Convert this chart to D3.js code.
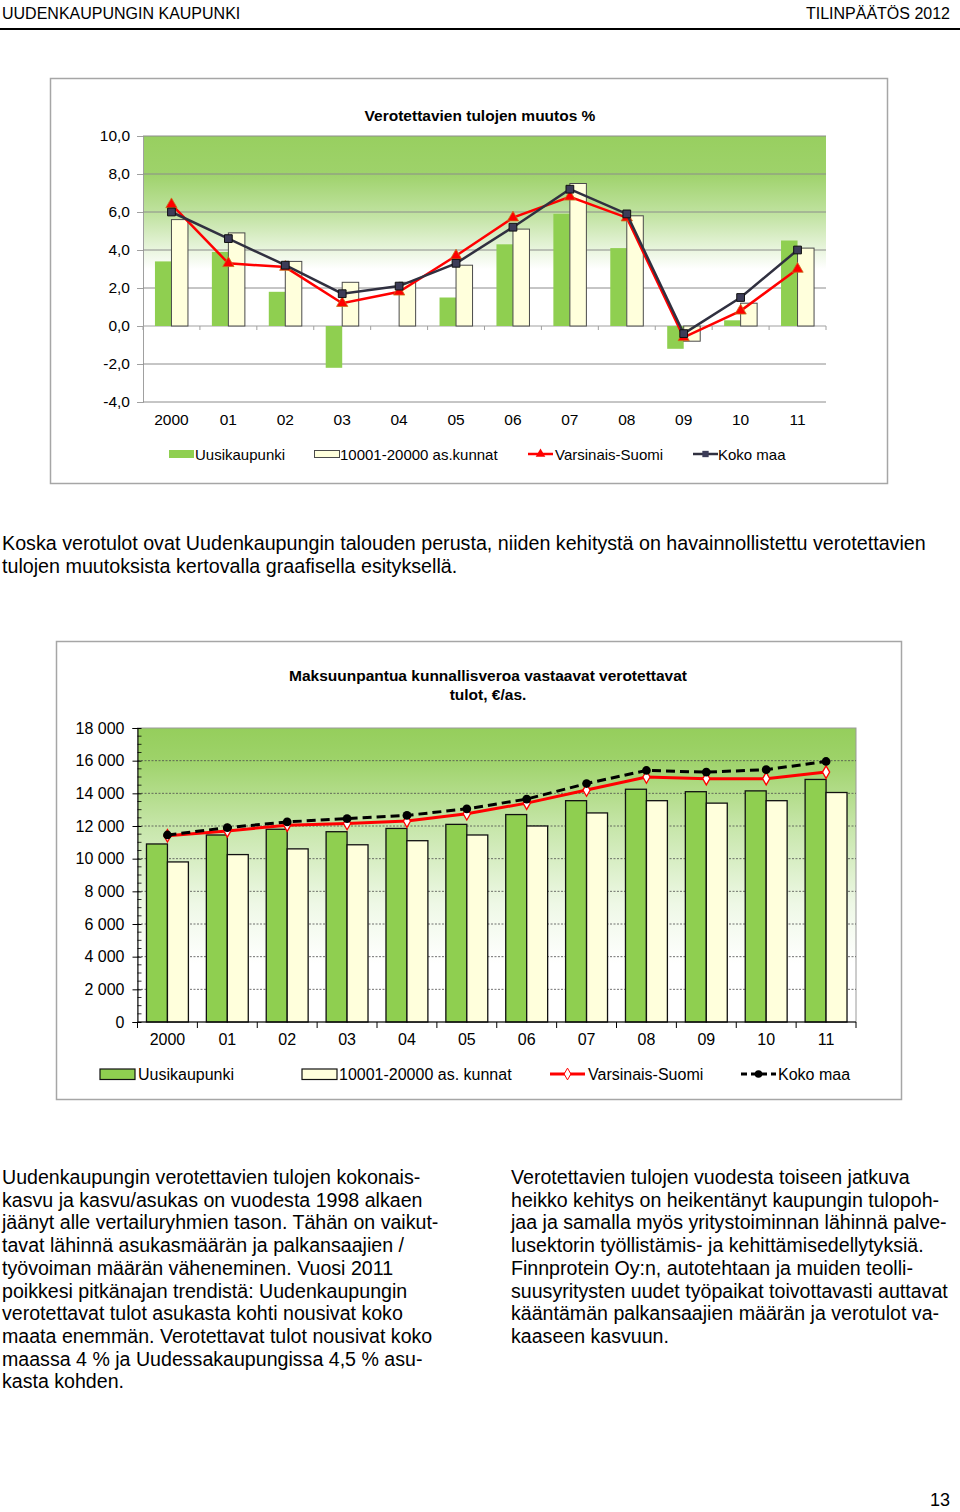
<!DOCTYPE html>
<html>
<head>
<meta charset="utf-8">
<script src="https://cdn.jsdelivr.net/npm/d3@7"></script>
<style>
  html, body { margin: 0; padding: 0; background: #fff; }
  svg { display: block; }
  text { font-family: "Liberation Sans", Arial, sans-serif; fill: #000; }
</style>
</head>
<body>
<svg id="page" width="960" height="1512"></svg>
<script>
// ---------- DATA ----------
const years = ["2000", "01", "02", "03", "04", "05", "06", "07", "08", "09", "10", "11"];

// Chart 1: Verotettavien tulojen muutos %
const changeUusikaupunki = [3.4, 3.9, 1.8, -2.2, 0.0, 1.5, 4.3, 5.9, 4.1, -1.2, 0.3, 4.5];
const changeKunnat = [5.6, 4.9, 3.4, 2.3, 2.3, 3.2, 5.1, 7.5, 5.8, -0.8, 1.2, 4.1];
const changeVarsinaisSuomi = [6.4, 3.3, 3.1, 1.2, 1.8, 3.7, 5.7, 6.8, 5.7, -0.6, 0.8, 3.0];
const changeKokoMaa = [6.0, 4.6, 3.2, 1.7, 2.1, 3.3, 5.2, 7.2, 5.9, -0.4, 1.5, 4.0];
const changeTicks = [-4, -2, 0, 2, 4, 6, 8, 10];

// Chart 2: Maksuunpantua kunnallisveroa vastaavat verotettavat tulot, €/as.
const incomeUusikaupunki = [10900, 11450, 11800, 11650, 11850, 12100, 12700, 13550, 14250, 14100, 14150, 14850];
const incomeKunnat = [9800, 10250, 10600, 10850, 11100, 11450, 12000, 12800, 13550, 13400, 13550, 14050];
const incomeVarsinaisSuomi = [11400, 11700, 12050, 12150, 12300, 12750, 13400, 14200, 15000, 14900, 14900, 15300];
const incomeKokoMaa = [11450, 11900, 12250, 12450, 12650, 13050, 13650, 14600, 15400, 15300, 15450, 15950];
const incomeTicks = [0, 2000, 4000, 6000, 8000, 10000, 12000, 14000, 16000, 18000];

const legend1 = ["Uusikaupunki", "10001-20000 as.kunnat", "Varsinais-Suomi", "Koko maa"];
const legend2 = ["Uusikaupunki", "10001-20000 as. kunnat", "Varsinais-Suomi", "Koko maa"];

const headerLeft = "UUDENKAUPUNGIN KAUPUNKI";
const headerRight = "TILINPÄÄTÖS 2012";
const introLines = [
  "Koska verotulot ovat Uudenkaupungin talouden perusta, niiden kehitystä on havainnollistettu verotettavien",
  "tulojen muutoksista kertovalla graafisella esityksellä."
];
const leftColumn = [
  "Uudenkaupungin verotettavien tulojen kokonais-",
  "kasvu ja kasvu/asukas on vuodesta 1998 alkaen",
  "jäänyt alle vertailuryhmien tason. Tähän on vaikut-",
  "tavat lähinnä asukasmäärän ja palkansaajien /",
  "työvoiman määrän väheneminen. Vuosi 2011",
  "poikkesi pitkänajan trendistä: Uudenkaupungin",
  "verotettavat tulot asukasta kohti nousivat koko",
  "maata enemmän. Verotettavat tulot nousivat koko",
  "maassa 4 % ja Uudessakaupungissa 4,5 % asu-",
  "kasta kohden."
];
const rightColumn = [
  "Verotettavien tulojen vuodesta toiseen jatkuva",
  "heikko kehitys on heikentänyt kaupungin tulopoh-",
  "jaa ja samalla myös yritystoiminnan lähinnä palve-",
  "lusektorin työllistämis- ja kehittämisedellytyksiä.",
  "Finnprotein Oy:n, autotehtaan ja muiden teolli-",
  "suusyritysten uudet työpaikat toivottavasti auttavat",
  "kääntämän palkansaajien määrän ja verotulot va-",
  "kaaseen kasvuun."
];

// ---------- COLOURS ----------
const GREEN = "#8fcf50";
const CREAM = "#ffffdc";
const RED = "#ff0000";

const fi = d3.formatLocale({decimal: ",", thousands: "\u00a0", grouping: [3], currency: ["", "€"], minus: "-"});
const fmt1 = fi.format(".1f");
const fmtK = fi.format(",.0f");

const svg = d3.select("#page");
const defs = svg.append("defs");

// ---------- PAGE TEXT ----------
svg.append("text").attr("x", 2).attr("y", 19).attr("font-size", 16).text(headerLeft);
svg.append("text").attr("x", 950).attr("y", 19).attr("font-size", 16).attr("text-anchor", "end").text(headerRight);
svg.append("line").attr("x1", 0).attr("x2", 960).attr("y1", 29).attr("y2", 29)
  .attr("stroke", "#000").attr("stroke-width", 2);

function textBlock(lines, x, y0, lh, size) {
  const g = svg.append("g");
  g.selectAll("text").data(lines).join("text")
    .attr("x", x).attr("y", (d, i) => y0 + i * lh)
    .attr("font-size", size).text(d => d);
}
textBlock(introLines, 2, 550, 23, 19.7);
textBlock(leftColumn, 2, 1184, 22.7, 19.6);
textBlock(rightColumn, 511, 1184, 22.7, 19.6);
svg.append("text").attr("x", 950).attr("y", 1506).attr("font-size", 18).attr("text-anchor", "end").text("13");

// ---------- CHART 1 ----------
(function chart1() {
  const frame = {x: 50.5, y: 78.5, w: 837, h: 405};
  svg.append("rect").attr("x", frame.x).attr("y", frame.y).attr("width", frame.w).attr("height", frame.h)
    .attr("fill", "#fff").attr("stroke", "#a6a6a6").attr("stroke-width", 1.5);

  const left = 143, right = 826, top = 136, bottom = 402;
  const x = d3.scaleBand().domain(years).range([left, right]).paddingInner(0.42).paddingOuter(0.21);
  const xs = d3.scaleBand().domain([0, 1]).range([0, x.bandwidth()]);
  const y = d3.scaleLinear().domain([-4, 10]).range([bottom, top]);

  const grad = defs.append("linearGradient").attr("id", "g1").attr("x1", 0).attr("y1", 0).attr("x2", 0).attr("y2", 1);
  [[0, "#98cf60"], [0.14, "#9ed26a"], [0.3, "#c2e3a3"], [0.5, "#ffffff"], [1, "#ffffff"]].forEach(([o, c]) =>
    grad.append("stop").attr("offset", o).attr("stop-color", c));
  svg.append("rect").attr("x", left).attr("y", top).attr("width", right - left).attr("height", bottom - top)
    .attr("fill", "url(#g1)");

  // title
  svg.append("text").attr("x", 480).attr("y", 121).attr("text-anchor", "middle")
    .attr("font-size", 15.5).attr("font-weight", "bold").text("Verotettavien tulojen muutos %");

  // y axis with gridlines
  const yAxis = d3.axisLeft(y).tickValues(changeTicks).tickFormat(fmt1).tickSize(6).tickPadding(7);
  const ga = svg.append("g").attr("transform", `translate(${left},0)`).call(yAxis);
  ga.select(".domain").attr("stroke", "#a0a0a0");
  ga.selectAll(".tick line").attr("stroke", "#a0a0a0");
  ga.selectAll(".tick text").attr("font-size", 15.5).attr("font-family", "Liberation Sans, Arial, sans-serif").attr("fill", "#000");
  svg.append("g").selectAll("line").data(changeTicks).join("line")
    .attr("x1", left).attr("x2", right).attr("y1", d => y(d)).attr("y2", d => y(d))
    .attr("stroke", d => d === 0 ? "#a0a0a0" : "#8c8c8c").attr("stroke-width", 1);

  // bars
  const series = [changeUusikaupunki, changeKunnat];
  series.forEach((vals, si) => {
    svg.append("g").selectAll("rect").data(vals).join("rect")
      .attr("x", (d, i) => x(years[i]) + xs(si))
      .attr("width", xs.bandwidth())
      .attr("y", d => y(Math.max(0, d)))
      .attr("height", d => Math.abs(y(d) - y(0)))
      .attr("fill", si === 0 ? GREEN : CREAM)
      .attr("stroke", si === 0 ? "none" : "#4a4a4a")
      .attr("stroke-width", 1);
  });

  // zero axis ticks at category boundaries
  const bounds = d3.range(years.length + 1).map(i => x.range()[0] + i * x.step());
  svg.append("g").selectAll("line").data(bounds).join("line")
    .attr("x1", d => d).attr("x2", d => d).attr("y1", y(0)).attr("y2", y(0) + 4)
    .attr("stroke", "#a0a0a0");

  // x labels
  const xAxis = d3.axisBottom(x).tickSize(0).tickPadding(12);
  const gx = svg.append("g").attr("transform", `translate(0,${bottom})`).call(xAxis);
  gx.select(".domain").remove();
  gx.selectAll(".tick text").attr("font-size", 15.5).attr("font-family", "Liberation Sans, Arial, sans-serif").attr("fill", "#000");

  // lines
  const cx = i => x(years[i]) + x.bandwidth() / 2;
  const line = d3.line().x((d, i) => cx(i)).y(d => y(d));
  svg.append("path").datum(changeVarsinaisSuomi).attr("d", line).attr("fill", "none")
    .attr("stroke", RED).attr("stroke-width", 2.5);
  svg.append("g").selectAll("path").data(changeVarsinaisSuomi).join("path")
    .attr("transform", (d, i) => `translate(${cx(i)},${y(d)})`)
    .attr("d", d3.symbol(d3.symbolTriangle, 55))
    .attr("fill", RED).attr("stroke", "#c8701c").attr("stroke-width", 0.8);
  svg.append("path").datum(changeKokoMaa).attr("d", line).attr("fill", "none")
    .attr("stroke", "#303040").attr("stroke-width", 2.5);
  svg.append("g").selectAll("path").data(changeKokoMaa).join("path")
    .attr("transform", (d, i) => `translate(${cx(i)},${y(d)})`)
    .attr("d", d3.symbol(d3.symbolSquare, 60))
    .attr("fill", "#3c3c58").attr("stroke", "#111").attr("stroke-width", 1);

  // legend
  const ly = 454;
  const lg = svg.append("g");
  lg.append("rect").attr("x", 169).attr("y", ly - 4).attr("width", 25).attr("height", 8).attr("fill", GREEN);
  lg.append("rect").attr("x", 314.5).attr("y", ly - 3.5).attr("width", 25).attr("height", 7).attr("fill", CREAM).attr("stroke", "#4a4a4a");
  lg.append("line").attr("x1", 528).attr("x2", 553).attr("y1", ly).attr("y2", ly).attr("stroke", RED).attr("stroke-width", 2.5);
  lg.append("path").attr("transform", `translate(540.5,${ly})`).attr("d", d3.symbol(d3.symbolTriangle, 40)).attr("fill", RED);
  lg.append("line").attr("x1", 693).attr("x2", 718).attr("y1", ly).attr("y2", ly).attr("stroke", "#303040").attr("stroke-width", 2.5);
  lg.append("path").attr("transform", `translate(705.5,${ly})`).attr("d", d3.symbol(d3.symbolSquare, 40)).attr("fill", "#3c3c58");
  const lx = [195, 340, 555, 718];
  lg.selectAll("text").data(legend1).join("text")
    .attr("x", (d, i) => lx[i]).attr("y", ly + 5.5).attr("font-size", 15).text(d => d);
})();

// ---------- CHART 2 ----------
(function chart2() {
  const frame = {x: 56.5, y: 641.5, w: 845, h: 458};
  svg.append("rect").attr("x", frame.x).attr("y", frame.y).attr("width", frame.w).attr("height", frame.h)
    .attr("fill", "#fff").attr("stroke", "#a6a6a6").attr("stroke-width", 1.5);

  const left = 137.5, right = 856, top = 728, bottom = 1022;
  const x = d3.scaleBand().domain(years).range([left, right]).paddingInner(0.3).paddingOuter(0.15);
  const xs = d3.scaleBand().domain([0, 1]).range([0, x.bandwidth()]);
  const y = d3.scaleLinear().domain([0, 18000]).range([bottom, top]);

  const grad = defs.append("linearGradient").attr("id", "g2").attr("x1", 0).attr("y1", 0).attr("x2", 0).attr("y2", 1);
  [[0, "#95ce5c"], [0.1, "#9dd268"], [0.35, "#c9e7ad"], [0.6, "#eef8e6"], [0.8, "#ffffff"], [1, "#ffffff"]].forEach(([o, c]) =>
    grad.append("stop").attr("offset", o).attr("stop-color", c));
  svg.append("rect").attr("x", left).attr("y", top).attr("width", right - left).attr("height", bottom - top)
    .attr("fill", "url(#g2)").attr("stroke", "#9a9a9a").attr("stroke-width", 1);

  // title
  const tg = svg.append("g");
  tg.append("text").attr("x", 488).attr("y", 681).attr("text-anchor", "middle")
    .attr("font-size", 15.5).attr("font-weight", "bold").text("Maksuunpantua kunnallisveroa vastaavat verotettavat");
  tg.append("text").attr("x", 488).attr("y", 700).attr("text-anchor", "middle")
    .attr("font-size", 15.5).attr("font-weight", "bold").text("tulot, €/as.");

  // gridlines
  svg.append("g").selectAll("line").data(incomeTicks.filter(d => d > 0 && d < 18000)).join("line")
    .attr("x1", left).attr("x2", right).attr("y1", d => y(d)).attr("y2", d => y(d))
    .attr("stroke", "#4d4d4d").attr("stroke-width", 0.8).attr("stroke-dasharray", "2,1.5");

  // bars
  [incomeUusikaupunki, incomeKunnat].forEach((vals, si) => {
    svg.append("g").selectAll("rect").data(vals).join("rect")
      .attr("x", (d, i) => x(years[i]) + xs(si))
      .attr("width", xs.bandwidth())
      .attr("y", d => y(d))
      .attr("height", d => y(0) - y(d))
      .attr("fill", si === 0 ? GREEN : CREAM)
      .attr("stroke", "#111").attr("stroke-width", 1.3);
  });

  // y axis
  const yAxis = d3.axisLeft(y).tickValues(incomeTicks).tickFormat(fmtK).tickSize(5).tickPadding(8);
  const ga = svg.append("g").attr("transform", `translate(${left},0)`).call(yAxis);
  ga.select(".domain").attr("stroke", "#000");
  ga.selectAll(".tick line").attr("stroke", "#000").attr("x2", -5).attr("x1", 4);
  ga.selectAll(".tick text").attr("font-size", 16).attr("font-family", "Liberation Sans, Arial, sans-serif").attr("fill", "#000");
  const minor = d3.range(0, 18001, 500).filter(v => v % 2000 !== 0);
  svg.append("g").selectAll("line").data(minor).join("line")
    .attr("x1", left).attr("x2", left + 4).attr("y1", d => y(d)).attr("y2", d => y(d))
    .attr("stroke", "#000").attr("stroke-width", 0.8);

  // x axis
  svg.append("line").attr("x1", left).attr("x2", right).attr("y1", bottom).attr("y2", bottom).attr("stroke", "#000").attr("stroke-width", 1.2);
  const bounds = d3.range(years.length + 1).map(i => x.range()[0] + i * x.step());
  svg.append("g").selectAll("line").data(bounds).join("line")
    .attr("x1", d => d).attr("x2", d => d).attr("y1", bottom).attr("y2", bottom + 6)
    .attr("stroke", "#000");
  const xAxis = d3.axisBottom(x).tickSize(0).tickPadding(12);
  const gx = svg.append("g").attr("transform", `translate(0,${bottom})`).call(xAxis);
  gx.select(".domain").remove();
  gx.selectAll(".tick text").attr("font-size", 16).attr("font-family", "Liberation Sans, Arial, sans-serif").attr("fill", "#000");

  // lines
  const cx = i => x(years[i]) + x.bandwidth() / 2;
  const line = d3.line().x((d, i) => cx(i)).y(d => y(d));
  svg.append("path").datum(incomeVarsinaisSuomi).attr("d", line).attr("fill", "none")
    .attr("stroke", RED).attr("stroke-width", 3);
  svg.append("g").selectAll("path").data(incomeVarsinaisSuomi).join("path")
    .attr("transform", (d, i) => `translate(${cx(i)},${y(d)})`)
    .attr("d", d3.symbol(d3.symbolDiamond, 45))
    .attr("fill", "#fff").attr("stroke", RED).attr("stroke-width", 1.3);
  svg.append("path").datum(incomeKokoMaa).attr("d", line).attr("fill", "none")
    .attr("stroke", "#000").attr("stroke-width", 3).attr("stroke-dasharray", "9,5");
  svg.append("g").selectAll("path").data(incomeKokoMaa).join("path")
    .attr("transform", (d, i) => `translate(${cx(i)},${y(d)})`)
    .attr("d", d3.symbol(d3.symbolCircle, 60))
    .attr("fill", "#000");

  // legend
  const ly = 1074;
  const lg = svg.append("g");
  lg.append("rect").attr("x", 100).attr("y", ly - 5).attr("width", 35).attr("height", 10.5).attr("fill", GREEN).attr("stroke", "#111").attr("stroke-width", 1.2);
  lg.append("rect").attr("x", 302).attr("y", ly - 5).attr("width", 35).attr("height", 10.5).attr("fill", CREAM).attr("stroke", "#111").attr("stroke-width", 1.2);
  lg.append("line").attr("x1", 550).attr("x2", 585).attr("y1", ly).attr("y2", ly).attr("stroke", RED).attr("stroke-width", 3);
  lg.append("path").attr("transform", `translate(567.5,${ly})`).attr("d", d3.symbol(d3.symbolDiamond, 40)).attr("fill", "#fff").attr("stroke", RED);
  lg.append("line").attr("x1", 741).attr("x2", 776).attr("y1", ly).attr("y2", ly).attr("stroke", "#000").attr("stroke-width", 3).attr("stroke-dasharray", "6,4");
  lg.append("path").attr("transform", `translate(758.5,${ly})`).attr("d", d3.symbol(d3.symbolCircle, 45)).attr("fill", "#000");
  const lx = [138, 339, 588, 778];
  lg.selectAll("text").data(legend2).join("text")
    .attr("x", (d, i) => lx[i]).attr("y", ly + 5.5).attr("font-size", 16).text(d => d);
})();
</script>
</body>
</html>
